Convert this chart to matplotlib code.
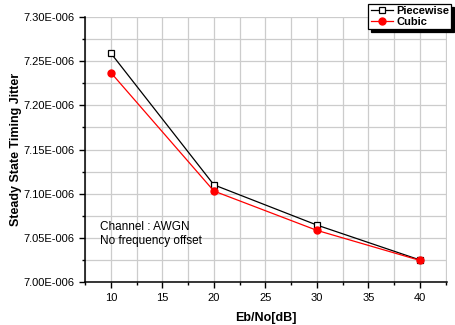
import matplotlib
matplotlib.use('Agg')
import matplotlib.pyplot as plt
from matplotlib.ticker import MultipleLocator, FuncFormatter

plt.rcParams['font.family'] = ['Liberation Sans', 'DejaVu Sans']

ebno = [10, 20, 30, 40]
piecewise = [7.259e-6, 7.110e-6, 7.0645e-6, 7.025e-6]
cubic = [7.237e-6, 7.103e-6, 7.0585e-6, 7.0245e-6]


def sci_fmt(v, pos):
    m, e = f"{v:.2E}".split('E')
    sign = '-' if int(e) < 0 else '+'
    return f"{m}E{sign}{abs(int(e)):03d}"


fig = plt.figure(figsize=(4.55, 3.25), dpi=100)
ax = fig.add_axes([0.187, 0.132, 0.795, 0.816])

ax.plot(ebno, piecewise, color='black', lw=0.9, marker='s', ms=4,
        mfc='white', mec='black', mew=0.9, label='Piecewise', zorder=3)
ax.plot(ebno, cubic, color='red', lw=0.9, marker='o', ms=5,
        mfc='red', mec='red', label='Cubic', zorder=3)

ax.set_xlim(7.5, 42.6)
ax.set_ylim(7.0e-6, 7.3e-6)
ax.xaxis.set_major_locator(MultipleLocator(5))
ax.xaxis.set_minor_locator(MultipleLocator(2.5))
ax.yaxis.set_major_locator(MultipleLocator(0.05e-6))
ax.yaxis.set_minor_locator(MultipleLocator(0.025e-6))
ax.yaxis.set_major_formatter(FuncFormatter(sci_fmt))
ax.xaxis.set_major_formatter(FuncFormatter(lambda v, p: f"{v:.0f}"))

ax.grid(True, which='both', color='#cccccc', lw=0.9)
ax.set_axisbelow(True)
for s in ['top', 'right']:
    ax.spines[s].set_visible(False)
for s in ['left', 'bottom']:
    ax.spines[s].set_linewidth(1.1)

ax.tick_params(which='major', direction='out', length=4, width=1, labelsize=8)
ax.tick_params(which='minor', direction='out', length=2.5, width=1)

ax.set_xlabel('Eb/No[dB]', fontsize=9, fontweight='bold', labelpad=7)
ax.set_ylabel('Steady State Timing Jitter', fontsize=9, fontweight='bold', labelpad=1)

ax.text(0.041, 0.18, 'Channel : AWGN\nNo frequency offset', transform=ax.transAxes,
        fontsize=8.5, va='center', ha='left', linespacing=1.2)

leg = fig.legend(loc='upper right', bbox_to_anchor=(0.997, 0.995),
                 prop={'weight': 'bold', 'size': 8}, frameon=True, fancybox=False,
                 shadow={'color': 'black', 'alpha': 1}, edgecolor='black',
                 handlelength=2.0, handletextpad=0.3, borderpad=0.2,
                 labelspacing=0.1, borderaxespad=0.2, framealpha=1)
leg.get_frame().set_linewidth(0.9)

fig.savefig('out.png', dpi=100)
